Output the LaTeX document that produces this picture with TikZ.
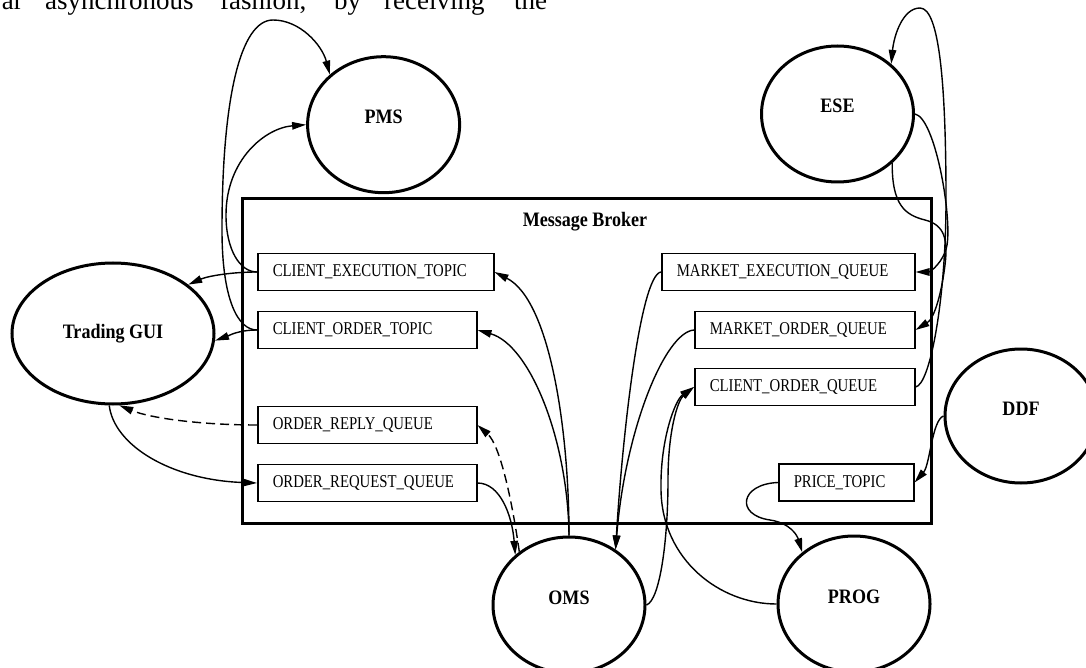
\documentclass[tikz,border=0pt]{standalone}
\usepackage{fontspec}
\setmainfont{Liberation Serif}
\newfontfamily\rfam[FakeStretch=0.82]{Liberation Serif}
\newfontfamily\bfam[FakeStretch=0.88]{Liberation Serif}
\usetikzlibrary{shapes.geometric,arrows.meta}
\begin{document}
\begin{tikzpicture}[x=1pt,y=-1pt,
  proc/.style={ellipse, draw, line width=3pt, minimum width=152pt, minimum height=136pt, inner sep=0pt,
    font={\bfam\bfseries\fontsize{20.5}{23}\selectfont}, text height=14pt, text depth=16pt},
  queue/.style={draw, line width=1.5pt, minimum height=37pt, inner xsep=15pt, inner ysep=0pt,
    align=left, anchor=west, font={\rfam\fontsize{18}{20}\selectfont}},
  arr/.style={-{Triangle[length=14pt,width=7.5pt]}, line width=1.4pt},
  dsh/.style={dash pattern=on 9pt off 5pt},
  toptext/.style={inner sep=0pt, font={\fontsize{27}{30}\selectfont}}
]
\useasboundingbox (0,0) rectangle (1086,668);
\clip (0,0) rectangle (1086,668);

% fragment of page text at the top
\node[toptext, anchor=base east] (t1) at (23,9.5) {ar};
\node[toptext, anchor=base west] (t2) at (45,9.5) {asynchronous};
\node[toptext, anchor=base west] (t3) at (220,9.5) {fashion,};
\node[toptext, anchor=base west] (t4) at (334,9.5) {by};
\node[toptext, anchor=base west] (t5) at (384,9.5) {receiving};
\node[toptext, anchor=base west] (t6) at (514,9.5) {the};

% message broker
\node[draw, line width=3pt, minimum width=689pt, minimum height=325pt, inner sep=0pt, anchor=north west] (broker) at (241,197) {};
\node[anchor=base, inner sep=0pt, font={\bfam\bfseries\fontsize{20.5}{23}\selectfont}] (brokerlbl) at (585,227) {Message Broker};

% queues / topics
\node[queue, text width=206pt] (CET) at (257,272) {CLIENT\_EXECUTION\_TOPIC};
\node[queue, text width=189pt] (COT) at (257,330) {CLIENT\_ORDER\_TOPIC};
\node[queue, text width=189pt] (ORQ) at (257,425) {ORDER\_REPLY\_QUEUE};
\node[queue, text width=189pt] (OREQ) at (257,483) {ORDER\_REQUEST\_QUEUE};
\node[queue, text width=223pt] (MEQ) at (661,272) {MARKET\_EXECUTION\_QUEUE};
\node[queue, text width=190pt] (MOQ) at (694,330) {MARKET\_ORDER\_QUEUE};
\node[queue, text width=190pt] (COQ) at (694,387) {CLIENT\_ORDER\_QUEUE};
\node[queue, text width=105pt] (PT) at (778,482.5) {PRICE\_TOPIC};

% processes
\node[proc] (PMS) at (383.6,124.7) {PMS};
\node[proc] (ESE) at (837.5,114) {ESE};
\node[proc, minimum width=202pt, minimum height=141pt, text height=, text depth=] (TGUI) at (113,333.5) {Trading GUI};
\node[proc, minimum height=134pt] (DDF) at (1021,416) {DDF};
\node[proc] (OMS) at (569,605) {OMS};
\node[proc] (PROG) at (854,604) {PROG};

% connectors
\draw[arr] (COT.west) .. controls (238,330) and (222,300) .. (222,230)
  .. controls (222,100) and (240,20) .. (273,20)
  .. controls (300,20) and (322,45) .. (PMS.137);
\draw[arr] (CET.west) .. controls (240,272) and (226,250) .. (226,215)
  .. controls (226,160) and (265,128) .. (PMS.west);
\draw[arr] (CET.west) .. controls (232,272) and (208,276) .. (TGUI.33);
\draw[arr] (COT.west) .. controls (238,330) and (228,336) .. (TGUI.-4);
\draw[arr, dsh] (ORQ.west) .. controls (200,425) and (150,418) .. (TGUI.-85);
\draw[arr] (TGUI.-93) .. controls (114,445) and (170,480) .. (OREQ.west);
\draw[arr] (OREQ.east) .. controls (500,483) and (512,515) .. (OMS.137);
\draw[arr, dsh] (OMS.133) .. controls (512,500) and (500,445) .. (ORQ.east);
\draw[arr] (OMS.north) .. controls (569,430) and (550,300) .. (CET.east);
\draw[arr] (OMS.north) .. controls (568,440) and (530,345) .. (COT.east);
\draw[arr] (MEQ.west) .. controls (640,275) and (622,440) .. (OMS.50);
\draw[arr] (MOQ.west) .. controls (665,332) and (625,430) .. (OMS.50);
\draw[arr] (OMS.east) .. controls (660,600) and (668,540) .. (668,480)
  .. controls (668,430) and (678,400) .. (COQ.west);
\draw[arr] (PROG.west) .. controls (720,604) and (662,560) .. (661,490)
  .. controls (660,440) and (675,400) .. (COQ.west);
\draw[arr] (COQ.east) .. controls (930,385) and (946,300) .. (946,200)
  .. controls (946,90) and (940,8) .. (920,8)
  .. controls (903,8) and (894,35) .. (ESE.43);
\draw[arr] (ESE.east) .. controls (935,118) and (952,215) .. (947,245)
  .. controls (944,262) and (930,272) .. (MEQ.east);
\draw[arr] (ESE.-42) .. controls (892,205) and (905,215) .. (925,220)
  .. controls (945,225) and (948,240) .. (945,265)
  .. controls (942,290) and (935,318) .. (MOQ.east);
\draw[arr] (DDF.west) .. controls (932,420) and (930,465) .. (PT.east);
\draw[arr] (PT.west) .. controls (740,484) and (735,515) .. (770,520)
  .. controls (790,523) and (797,535) .. (PROG.135);
\end{tikzpicture}
\end{document}
